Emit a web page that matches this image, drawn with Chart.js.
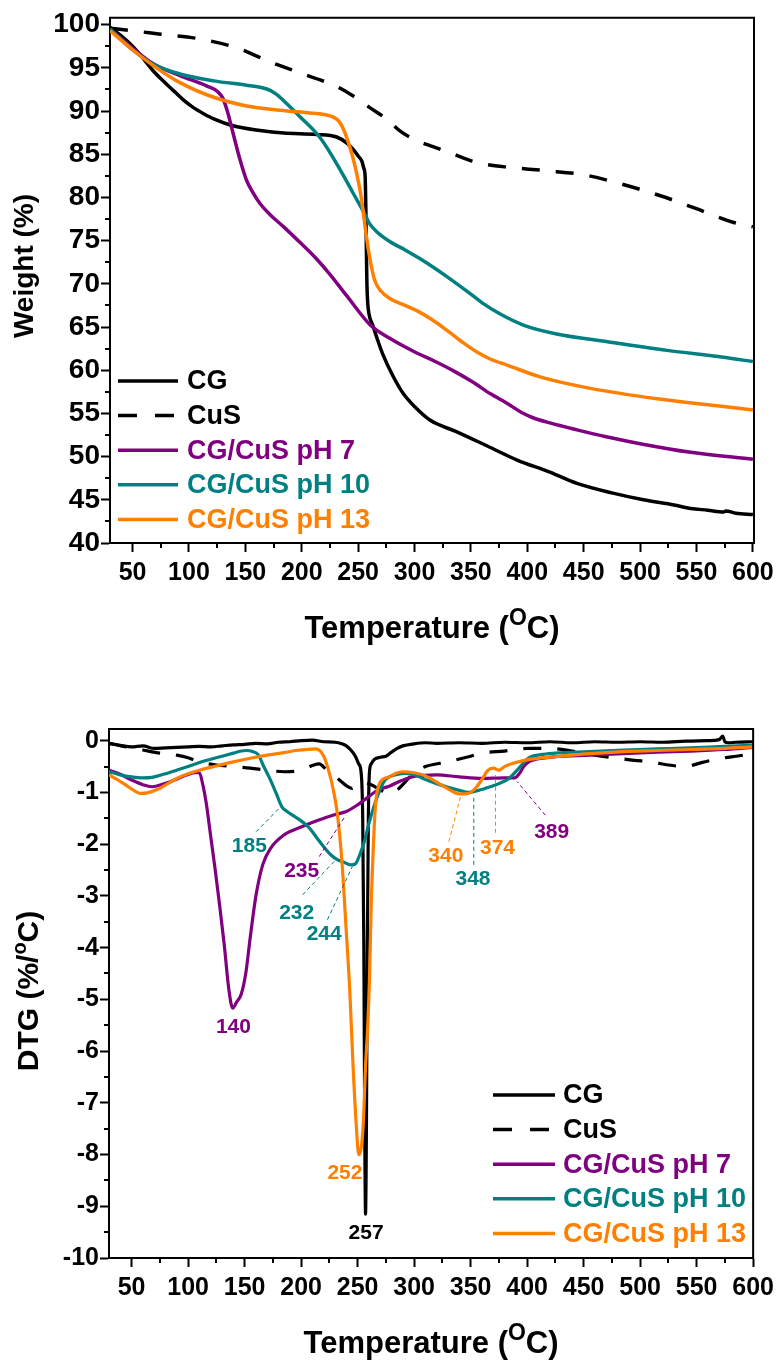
<!DOCTYPE html>
<html><head><meta charset="utf-8">
<script src="https://cdn.jsdelivr.net/npm/chart.js@4.4.1/dist/chart.umd.min.js"></script>
<style>
html,body{margin:0;padding:0;background:#fff;width:780px;height:1360px;overflow:hidden;}
#c1{position:absolute;left:0;top:0;}
#c2{position:absolute;left:0;top:665px;}
</style></head><body>
<canvas id="c1" width="780" height="665"></canvas>
<canvas id="c2" width="780" height="695"></canvas>
<script>
const FONT = "'Liberation Sans', Arial, Helvetica, sans-serif";
const PURPLE = '#800080', TEAL = '#008080', ORANGE = '#FF8000', BLACK = '#000000';

const seriesNames = ['CG', 'CuS', 'CG/CuS pH 7', 'CG/CuS pH 10', 'CG/CuS pH 13'];
const xTickValues = [50, 100, 150, 200, 250, 300, 350, 400, 450, 500, 550, 600];
const xMinorValues = [75, 125, 175, 225, 275, 325, 375, 425, 475, 525, 575];
const tgaYTicks = [40, 45, 50, 55, 60, 65, 70, 75, 80, 85, 90, 95, 100];
const tgaYMinor = [42.5, 47.5, 52.5, 57.5, 62.5, 67.5, 72.5, 77.5, 82.5, 87.5, 92.5, 97.5];
const dtgYTicks = [-10, -9, -8, -7, -6, -5, -4, -3, -2, -1, 0];
const dtgYMinor = [-9.5, -8.5, -7.5, -6.5, -5.5, -4.5, -3.5, -2.5, -1.5, -0.5];

// ---- TGA (weight %) ----
const cgTgaT = [30,40,50,60,68,77,86,95,104,113,122,139,163,184,213,231,240,246,250,253.3,255,256.2,256.8,257.3,257.8,258.5,259.5,263,266.5,272,281,290,300,314,337,365,391,420,444,475,503,530,545,560,574,576,585,600];
const cgTgaW = [99.7,98.7,97.5,96.0,94.7,93.5,92.4,91.3,90.4,89.7,89.1,88.3,87.75,87.45,87.3,87.0,86.3,85.5,84.8,84.2,83.4,82.5,79,74,70,67.8,66.6,65.2,63.8,61.8,59.3,57.3,55.8,54.2,52.9,51.2,49.6,48.2,46.9,45.8,45.0,44.4,44.0,43.8,43.6,43.7,43.45,43.3];

const cusTgaT = [30,50,75,110,145,170,200,231,245,261,275,287,300,317,335,349,365,383,417,451,485,518,550,583,600];
const cusTgaW = [99.6,99.3,98.9,98.35,97.2,95.8,94.35,92.85,91.8,90.35,89.1,87.7,86.7,85.85,85.0,84.3,83.8,83.5,83.1,82.6,81.5,80.2,78.7,77.1,76.6];

const ph7TgaT = [30,50,68,92,116,125,130,134,139,145,151,157,163,172,184,200,213,225,240,261,278,302,317,335,352,367,383,395,405,420,444,470,500,545,600];
const ph7TgaW = [99.5,97.3,95.5,94.1,92.9,92.3,91.5,90.0,87.5,84.5,82.0,80.5,79.3,78.0,76.6,74.6,72.9,71.1,68.6,65.2,63.7,62.0,61.1,59.9,58.6,57.3,56.1,55.1,54.5,53.9,53.1,52.3,51.5,50.5,49.7];

const ph10TgaT = [30,50,68,92,122,151,165,172,178,184,198,217,235,246,255,260,266,278,292,305,318,329,349,360,376,397,426,471,524,574,600];
const ph10TgaW = [99.5,97.1,95.45,94.3,93.5,93.0,92.7,92.4,91.9,91.2,89.4,86.8,83.0,80.4,78.3,77.0,76.1,74.9,73.9,72.9,71.8,70.8,68.9,67.8,66.5,65.2,64.2,63.3,62.3,61.5,61.0];

const ph13TgaT = [30,50,68,92,122,151,181,205,220,228,233,237,241,245,249,253,257,261,265,270,278,290,302,315,330,343,358,367,382,412,456,515,574,600];
const ph13TgaW = [99.3,97.1,95.3,93.3,91.6,90.6,90.1,89.8,89.6,89.3,88.8,87.9,86.5,84.8,82.6,79.8,75.8,72.5,70.3,69.2,68.3,67.6,66.9,65.9,64.5,63.2,61.9,61.3,60.6,59.2,57.9,56.7,55.8,55.4];

// ---- DTG (%/oC) ----
const cgDtgT = [30,40,50,60,70,80,90,100,110,120,130,140,150,160,170,180,190,200,210,220,230,236,240,244,248,251,253,254.5,255.5,256.3,257,257.8,258.6,259.5,260.5,262,265,270,275,280,285,290,300,310,320,340,360,380,400,420,440,460,480,500,520,540,560,570,573,575,578,585,600];
const cgDtgV = [-0.05,-0.09,-0.12,-0.1,-0.15,-0.14,-0.13,-0.12,-0.11,-0.12,-0.1,-0.08,-0.07,-0.05,-0.06,-0.03,-0.02,0.0,0.01,-0.02,-0.03,-0.06,-0.1,-0.18,-0.3,-0.45,-0.6,-1.5,-4.0,-7.5,-9.15,-7.5,-4.0,-1.5,-0.6,-0.45,-0.36,-0.32,-0.3,-0.22,-0.15,-0.1,-0.06,-0.04,-0.05,-0.04,-0.05,-0.03,-0.04,-0.02,-0.04,-0.02,-0.03,-0.02,-0.03,-0.01,0.0,0.02,0.09,-0.02,-0.04,-0.03,-0.02];

const cusDtgT = [30,45,60,75,90,100,110,125,140,155,170,185,200,210,216,222,228,235,240,245,250,255,262,270,278,285,292,300,310,322,335,350,360,380,400,420,440,460,480,495,510,525,540,555,565,575,585,600];
const cusDtgV = [-0.05,-0.12,-0.18,-0.24,-0.28,-0.33,-0.41,-0.47,-0.5,-0.53,-0.57,-0.6,-0.57,-0.48,-0.45,-0.55,-0.65,-0.78,-0.87,-0.92,-0.84,-0.82,-0.85,-0.95,-1.02,-0.95,-0.8,-0.62,-0.5,-0.44,-0.38,-0.3,-0.24,-0.2,-0.15,-0.15,-0.2,-0.28,-0.34,-0.38,-0.41,-0.47,-0.5,-0.42,-0.37,-0.33,-0.3,-0.25];

const ph7DtgT = [30,40,50,60,68,78,88,98,106,110,113,116,120,124,128,132,136,139.5,143,147,151,155,160,166,173,185,200,215,228,240,250,260,268,278,288,300,320,340,360,380,389,393,397,402,410,425,455,485,515,545,575,600];
const ph7DtgV = [-0.57,-0.65,-0.76,-0.85,-0.89,-0.84,-0.76,-0.67,-0.62,-0.62,-0.85,-1.2,-1.85,-2.5,-3.2,-3.95,-4.8,-5.17,-5.05,-4.9,-4.5,-3.8,-3.0,-2.4,-2.08,-1.82,-1.67,-1.54,-1.44,-1.37,-1.24,-1.08,-0.95,-0.88,-0.78,-0.69,-0.66,-0.7,-0.73,-0.72,-0.72,-0.64,-0.5,-0.4,-0.35,-0.31,-0.28,-0.25,-0.22,-0.2,-0.17,-0.13];

const ph10DtgT = [30,40,50,60,68,78,90,100,110,120,130,140,147,152,157,162,167,172,178,183,187,193,200,207,214,220,226,232,238,244,248,252,256,260,264,268,273,278,285,292,300,310,320,330,340,348,357,366,375,384,392,401,412,425,455,485,515,545,575,600];
const ph10DtgV = [-0.6,-0.66,-0.7,-0.72,-0.71,-0.65,-0.57,-0.5,-0.42,-0.36,-0.3,-0.24,-0.2,-0.19,-0.21,-0.27,-0.5,-0.72,-1.02,-1.28,-1.36,-1.45,-1.55,-1.68,-1.88,-2.05,-2.2,-2.3,-2.35,-2.4,-2.38,-2.2,-1.95,-1.6,-1.3,-1.05,-0.8,-0.7,-0.65,-0.63,-0.66,-0.75,-0.83,-0.9,-0.96,-1.0,-0.96,-0.9,-0.83,-0.73,-0.55,-0.34,-0.27,-0.24,-0.21,-0.18,-0.16,-0.14,-0.11,-0.09];

const ph13DtgT = [30,38,45,52,58,64,72,82,90,100,110,125,140,155,170,185,195,205,213,217,220,224,228,232,236,240,243,246,249,251,253,255,257,259,260.5,262,264,266,270,278,284,290,300,310,320,330,340,348,355,360,365,370,375,380,390,400,425,455,485,515,545,575,600];
const ph13DtgV = [-0.66,-0.76,-0.86,-0.96,-1.02,-1.01,-0.95,-0.83,-0.73,-0.64,-0.57,-0.49,-0.41,-0.34,-0.28,-0.23,-0.19,-0.17,-0.16,-0.2,-0.3,-0.55,-0.9,-1.4,-2.3,-3.7,-4.8,-6.3,-7.5,-8.0,-7.9,-7.4,-6.3,-5.5,-4.6,-3.2,-2.0,-1.2,-0.8,-0.7,-0.63,-0.6,-0.62,-0.68,-0.8,-0.93,-1.03,-1.02,-0.9,-0.75,-0.58,-0.53,-0.57,-0.5,-0.42,-0.37,-0.31,-0.25,-0.21,-0.19,-0.17,-0.15,-0.12];

// peak annotations (text, colour, text position, leader line in data units)
const dtgNotes = [
  {text:'185', color:TEAL,   tx:154.2, ty:-2.04, l:[160.1,-1.76,183.6,-1.24]},
  {text:'235', color:PURPLE, tx:200.5, ty:-2.53, l:[216,-2.24,239.6,-1.44]},
  {text:'232', color:TEAL,   tx:196.1, ty:-3.33, l:[201.3,-2.98,230.7,-2.30]},
  {text:'244', color:TEAL,   tx:220.4, ty:-3.74, l:[223.3,-3.46,245.4,-2.43]},
  {text:'140', color:PURPLE, tx:140.1, ty:-5.54, l:null},
  {text:'252', color:ORANGE, tx:238.8, ty:-8.37, l:null},
  {text:'257', color:BLACK,  tx:257.5, ty:-9.53, l:null},
  {text:'340', color:ORANGE, tx:328.1, ty:-2.23, l:[330.8,-1.95,341.1,-1.08]},
  {text:'348', color:TEAL,   tx:352.1, ty:-2.67, l:[352.8,-2.40,352.8,-1.05]},
  {text:'374', color:ORANGE, tx:373.8, ty:-2.07, l:[372,-1.78,372,-0.66]},
  {text:'389', color:PURPLE, tx:421.7, ty:-1.77, l:[416.1,-1.44,391.1,-0.79]}
];

function pts(xs, ys) { return xs.map((t, i) => ({x: t, y: ys[i]})); }
const colors = [BLACK, BLACK, PURPLE, TEAL, ORANGE];
const dashes = [[], [18, 16], [], [], []];
function datasets(pairs, lw) {
  return pairs.map((p, i) => ({
    label: seriesNames[i], data: pts(p[0], p[1]),
    borderColor: colors[i], backgroundColor: colors[i], borderWidth: lw,
    borderDash: dashes[i], pointRadius: 0, fill: false,
    cubicInterpolationMode: 'monotone', borderCapStyle: 'butt', borderJoinStyle: 'round'
  })).reverse();
}

const decoPlugin = {
  id: 'deco',
  afterDraw(chart, args, o) {
    const {ctx, chartArea: a} = chart;
    const xs = chart.scales.x, ys = chart.scales.y;
    ctx.save();
    ctx.strokeStyle = '#000'; ctx.lineWidth = 2; ctx.setLineDash([]);
    ctx.beginPath(); ctx.moveTo(a.left - 1, a.top); ctx.lineTo(a.right, a.top); ctx.lineTo(a.right, a.bottom + 1); ctx.stroke();
    o.xMinor.forEach(v => { const p = Math.round(xs.getPixelForValue(v)); ctx.beginPath(); ctx.moveTo(p, a.bottom); ctx.lineTo(p, a.bottom + 5); ctx.stroke(); });
    o.yMinor.forEach(v => { const p = Math.round(ys.getPixelForValue(v)); ctx.beginPath(); ctx.moveTo(a.left, p); ctx.lineTo(a.left - 5, p); ctx.stroke(); });
    // titles with superscripts
    function drawParts(parts, cx, y) {
      let total = 0;
      parts.forEach(p => { ctx.font = 'bold ' + p[1] + 'px ' + FONT; p.w = ctx.measureText(p[0]).width; total += p.w; });
      let x = cx - total / 2;
      ctx.textAlign = 'left'; ctx.textBaseline = 'alphabetic'; ctx.fillStyle = '#000';
      parts.forEach(p => { ctx.font = 'bold ' + p[1] + 'px ' + FONT; ctx.fillText(p[0], x, y - p[2]); x += p.w; });
    }
    drawParts(o.xTitle, (a.left + a.right) / 2, o.xTitleY);
    ctx.save(); ctx.translate(o.yTitleX, o.yTitleCY); ctx.rotate(-Math.PI / 2);
    drawParts(o.yTitle, 0, 0);
    ctx.restore();
    // legend
    const L = o.legend;
    seriesNames.forEach((name, i) => {
      const y = L.y0 + i * L.dy;
      ctx.strokeStyle = colors[i]; ctx.lineWidth = 3.5; ctx.setLineDash(dashes[i].length ? [19, 18] : []);
      ctx.beginPath(); ctx.moveTo(L.x, y); ctx.lineTo(L.x + L.len, y); ctx.stroke();
      ctx.setLineDash([]);
      ctx.font = 'bold 27px ' + FONT; ctx.fillStyle = colors[i]; ctx.textAlign = 'left'; ctx.textBaseline = 'middle';
      ctx.fillText(name, L.x + L.len + L.gap, y + 1);
    });
    // annotations
    (o.notes || []).forEach(n => {
      if (n.l) {
        ctx.strokeStyle = n.color; ctx.lineWidth = 1; ctx.setLineDash([4, 3]);
        ctx.beginPath();
        ctx.moveTo(xs.getPixelForValue(n.l[0]), ys.getPixelForValue(n.l[1]));
        ctx.lineTo(xs.getPixelForValue(n.l[2]), ys.getPixelForValue(n.l[3]));
        ctx.stroke(); ctx.setLineDash([]);
      }
      ctx.font = 'bold 21px ' + FONT; ctx.fillStyle = n.color; ctx.textAlign = 'center'; ctx.textBaseline = 'middle';
      ctx.fillText(n.text, xs.getPixelForValue(n.tx), ys.getPixelForValue(n.ty));
    });
    ctx.restore();
  }
};

function axisX(min, max, h) {
  return {
    type: 'linear', min: min, max: max, position: 'bottom',
    afterBuildTicks: s => { s.ticks = xTickValues.map(v => ({value: v})); },
    afterFit: s => { s.height = h; },
    ticks: {color: '#000', font: {family: FONT, size: 25, weight: 'bold'}, padding: 6, maxRotation: 0, autoSkip: false, callback: v => String(v)},
    grid: {drawOnChartArea: false, drawTicks: true, tickLength: 9, tickWidth: 2, tickColor: '#000', color: '#000'},
    border: {display: true, color: '#000', width: 2},
    title: {display: false}
  };
}
function axisY(min, max, w, ticks, fs) {
  return {
    type: 'linear', min: min, max: max, position: 'left',
    afterBuildTicks: s => { s.ticks = ticks.map(v => ({value: v})); },
    afterFit: s => { s.width = w; },
    ticks: {color: '#000', font: {family: FONT, size: fs, weight: 'bold'}, padding: 1, autoSkip: false, callback: v => String(v)},
    grid: {drawOnChartArea: false, drawTicks: true, tickLength: 9, tickWidth: 2, tickColor: '#000', color: '#000'},
    border: {display: true, color: '#000', width: 2},
    title: {display: false}
  };
}
const baseOpts = {responsive: false, animation: false, devicePixelRatio: 1, events: []};

new Chart(document.getElementById('c1'), {
  type: 'line',
  data: {datasets: datasets([[cgTgaT, cgTgaW], [cusTgaT, cusTgaW], [ph7TgaT, ph7TgaW], [ph10TgaT, ph10TgaW], [ph13TgaT, ph13TgaW]], 3.5)},
  options: Object.assign({}, baseOpts, {
    layout: {padding: {top: 17, right: 26, left: 0, bottom: 0}},
    scales: {x: axisX(30, 601, 122), y: axisY(40, 100.8, 110, tgaYTicks, 28)},
    plugins: {
      legend: {display: false}, tooltip: {enabled: false},
      deco: {
        xMinor: xMinorValues, yMinor: tgaYMinor,
        xTitle: [['Temperature (', 31, 0], ['O', 23, 13], ['C)', 31, 0]], xTitleY: 638,
        yTitle: [['Weight (%)', 28, 0]], yTitleX: 33, yTitleCY: 266,
        legend: {x: 118, y0: 381, dy: 34.6, len: 60, gap: 9}
      }
    }
  }),
  plugins: [decoPlugin]
});

new Chart(document.getElementById('c2'), {
  type: 'line',
  data: {datasets: datasets([[cgDtgT, cgDtgV], [cusDtgT, cusDtgV], [ph7DtgT, ph7DtgV], [ph10DtgT, ph10DtgV], [ph13DtgT, ph13DtgV]], 3.2)},
  options: Object.assign({}, baseOpts, {
    layout: {padding: {top: 64, right: 24, left: 0, bottom: 0}},
    scales: {x: axisX(30, 600, 102), y: axisY(-10, 0.226, 109, dtgYTicks, 25)},
    plugins: {
      legend: {display: false}, tooltip: {enabled: false},
      deco: {
        xMinor: xMinorValues, yMinor: dtgYMinor,
        xTitle: [['Temperature (', 31, 0], ['O', 23, 13], ['C)', 31, 0]], xTitleY: 688,
        yTitle: [['DTG (%/', 30, 0], ['o', 20, 12], ['C)', 30, 0]], yTitleX: 38, yTitleCY: 326,
        legend: {x: 493, y0: 430, dy: 34.6, len: 62, gap: 8},
        notes: dtgNotes
      }
    }
  }),
  plugins: [decoPlugin]
});
</script>
</body></html>
